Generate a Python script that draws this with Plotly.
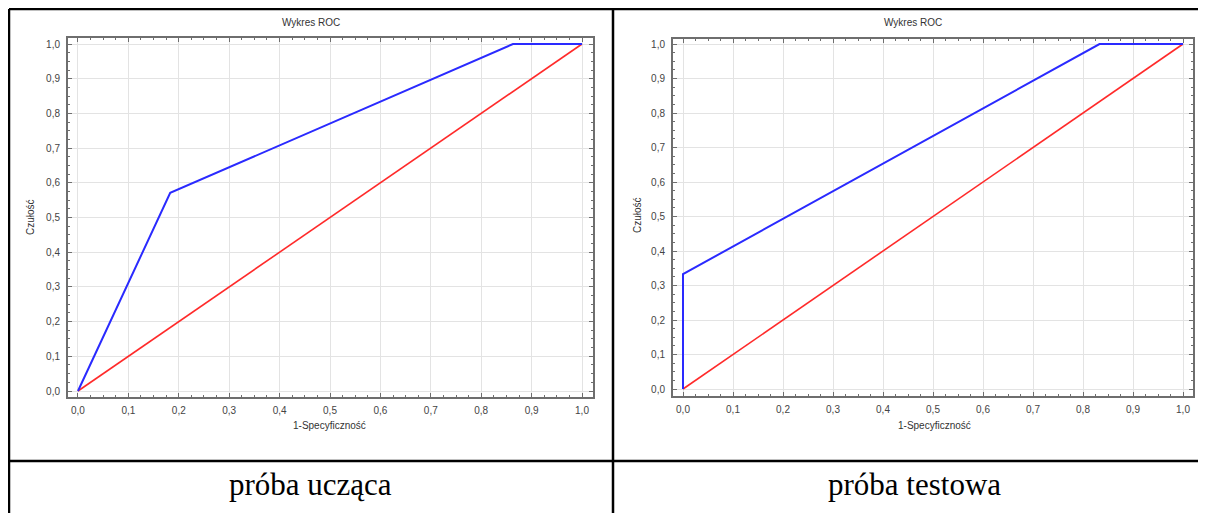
import plotly.graph_objects as go

# ---- data ----
train_fpr = [0.0, 0.183, 0.863, 1.0]
train_tpr = [0.0, 0.571, 1.0, 1.0]
test_fpr = [0.0, 0.0, 0.833, 1.0]
test_tpr = [0.0, 0.333, 1.0, 1.0]
diag = [0.0, 1.0]
tick_vals = [0.0, 0.1, 0.2, 0.3, 0.4, 0.5, 0.6, 0.7, 0.8, 0.9, 1.0]
chart_title = "Wykres ROC"
x_title = "1-Specyficzność"
y_title = "Czułość"
captions = ["próba ucząca", "próba testowa"]

OFF = 8  # page body margin
W, H = 1206 - OFF, 513 - OFF
def px(x):
    return (x - OFF) / W
def py(y):
    return 1 - (y - OFF) / H

fig = go.Figure()

for i, (fx, fy) in enumerate([(train_fpr, train_tpr), (test_fpr, test_tpr)]):
    xa = "x" if i == 0 else "x2"
    ya = "y" if i == 0 else "y2"
    fig.add_trace(go.Scatter(x=diag, y=diag, mode="lines", xaxis=xa, yaxis=ya,
                             line=dict(color="#ff2a2a", width=1.6), showlegend=False))
    fig.add_trace(go.Scatter(x=fx, y=fy, mode="lines", xaxis=xa, yaxis=ya,
                             line=dict(color="#2a2aff", width=2), showlegend=False))

axis_common = dict(
    showline=True, linecolor="#6e6e6e", linewidth=2, mirror="ticks",
    showgrid=True, gridcolor="#e3e3e3", gridwidth=1,
    zeroline=False,
    ticks="inside", ticklen=4, tickcolor="#6e6e6e", tickwidth=1,
    tickvals=tick_vals, tickformat=".1f",
    minor=dict(ticks="inside", ticklen=2, tickcolor="#6e6e6e", dtick=0.025, showgrid=False),
    tickfont=dict(family="Liberation Sans, Arial", size=10, color="#444444"),
    fixedrange=True,
)
xax = dict(axis_common, ticklabelstandoff=3)
yax = dict(axis_common, ticklabelstandoff=4)

fig.update_layout(
    width=W, height=H,
    margin=dict(l=0, r=0, t=0, b=0),
    paper_bgcolor="white", plot_bgcolor="white",
    separators=", ",
    xaxis=dict(xax, domain=[px(68), px(593)], range=[-0.0198, 1.0218], anchor="y"),
    yaxis=dict(yax, domain=[py(397), py(38)], range=[-0.0173, 1.0173], anchor="x"),
    xaxis2=dict(xax, domain=[px(673), px(1193)], range=[-0.02, 1.02], anchor="y2"),
    yaxis2=dict(yax, domain=[py(396), py(39)], range=[-0.0203, 1.0145], anchor="x2"),
)

ann = []
small = dict(family="Liberation Sans, Arial", size=10, color="#333333")
for cx_title, cx_x, cx_y, cy_y in [(311, 329, 31, 217), (913, 934, 638, 215)]:
    ann.append(dict(text=chart_title, x=px(cx_title), y=py(22), xref="paper", yref="paper",
                    showarrow=False, font=small, xanchor="center", yanchor="middle"))
    ann.append(dict(text=x_title, x=px(cx_x), y=py(425), xref="paper", yref="paper",
                    showarrow=False, font=small, xanchor="center", yanchor="middle"))
    ann.append(dict(text=y_title, x=px(cx_y), y=py(cy_y), xref="paper", yref="paper",
                    showarrow=False, font=small, xanchor="center", yanchor="middle", textangle=-90))
for cap, cx in zip(captions, [310, 914]):
    ann.append(dict(text=cap, x=px(cx), y=py(484), xref="paper", yref="paper",
                    showarrow=False, xanchor="center", yanchor="middle",
                    font=dict(family="Liberation Serif, Times New Roman", size=31, color="black")))
fig.update_layout(annotations=ann)

shapes = []
lw = 2.5
for (x0, y0, x1, y1) in [(9, 9, 9, 513), (9, 9, 1206, 9), (613, 9, 613, 513), (9, 461, 1206, 461)]:
    shapes.append(dict(type="line", xref="paper", yref="paper",
                       x0=px(x0), y0=py(y0), x1=px(x1), y1=py(y1),
                       line=dict(color="black", width=lw)))
fig.update_layout(shapes=shapes)

fig.write_html("out.html")
